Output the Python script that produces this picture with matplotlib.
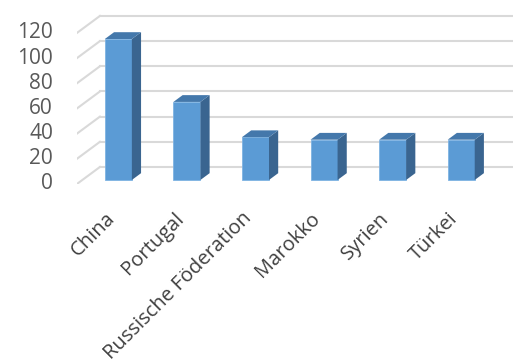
import matplotlib.pyplot as plt
from matplotlib.patches import Polygon

countries = ['China', 'Portugal', 'Russische Föderation', 'Marokko', 'Syrien', 'Türkei']
values = [112, 62, 34, 32, 32, 32]
yticks = [0, 20, 40, 60, 80, 100, 120]

plt.rcParams['font.family'] = ['Open Sans', 'DejaVu Sans']

# pseudo 3d geometry (front floor plane = data coords)
DX, DY = 0.335, 13.5      # depth vector to the back wall
TF, TB = 0.235, 0.40      # bar front plane depth, bar depth
W = 0.394                 # bar width

fig = plt.figure(figsize=(5.2, 3.6), dpi=100)
ax = fig.add_axes([0.148, 0.489, 0.838, 0.472])
ax.set_xlim(-0.525, 5.83)
ax.set_ylim(0, 135)
ax.axis('off')

grid = '#d9d9d9'
for g in yticks:
    # back wall line + left side wall line
    ax.plot([-0.525 + DX, 5.83], [g + DY, g + DY], color=grid, lw=1.5, zorder=1)
    ax.plot([-0.525, -0.525 + DX], [g, g + DY], color=grid, lw=1.5, zorder=1)
    ax.text(-0.875, g, str(g), ha='right', va='center', fontsize=15,
            color='#595959', clip_on=False)

x = [i + DX * TF for i in range(len(values))]
base = DY * TF
ax.bar(x, values, width=W, bottom=base, color='#5b9bd5',
       edgecolor='#7eb3e3', linewidth=0.6, zorder=3)

for xi, v in zip(x, values):
    r = xi + W / 2
    l = xi - W / 2
    top = v + base
    side = Polygon([(r, base), (r + DX * TB, base + DY * TB),
                    (r + DX * TB, top + DY * TB), (r, top)],
                   closed=True, facecolor='#3a6590', edgecolor='none', zorder=3)
    lid = Polygon([(l, top), (r, top), (r + DX * TB, top + DY * TB),
                   (l + DX * TB, top + DY * TB)],
                  closed=True, facecolor='#4478ab', edgecolor='none', zorder=3)
    ax.add_patch(side)
    ax.add_patch(lid)

for i, name in enumerate(countries):
    ax.text(i - 0.015, -25, name, rotation=45, rotation_mode='anchor',
            ha='right', va='center', fontsize=14.5, color='#404040', clip_on=False)

fig.savefig('out.png', dpi=100)
